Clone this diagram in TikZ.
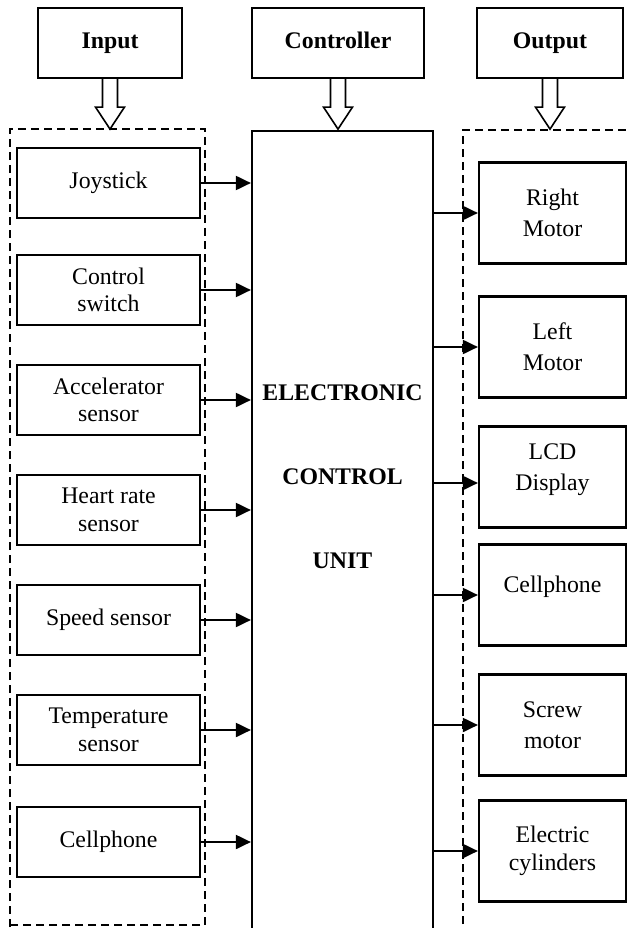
\documentclass[tikz,border=0pt]{standalone}
\usepackage{fontspec}
\setmainfont{Liberation Serif}
\usetikzlibrary{arrows.meta,positioning}
\tikzset{
  txt/.style={font=\fontsize{23.8}{27.4}\selectfont, align=center},
  header/.style={draw, line width=2.2pt, minimum width=#1, minimum height=70, inner sep=0pt, text height=16.5, text depth=4.5, font=\fontsize{23.8}{27.4}\selectfont\bfseries},
  inbox/.style={draw, line width=2.2pt, minimum width=183, minimum height=70, inner sep=0pt, txt},
  outbox/.style={draw, line width=2.2pt, minimum width=147, minimum height=101, inner sep=0pt, align=center, font=\fontsize{23.8}{31}\selectfont},
  grp/.style={draw, dash pattern=on 8pt off 5pt, line width=1.5pt},
  arr/.style={line width=2pt, -{Triangle[length=15pt,width=14pt]}},
  hollow/.style={line width=1.6pt, line join=miter}
}
\newcommand\hollowarrow[1]{%
  \draw[hollow] (#1.south) ++(-7.5,0) -- ++(0,28) -- ++(-7,0) -- ++(14.5,22) -- ++(14.5,-22) -- ++(-7,0) -- ++(0,-28);}
\begin{document}
\begin{tikzpicture}[x=1pt,y=-1pt]
\useasboundingbox (0,0) rectangle (631,928);
\clip (0,0) rectangle (631,928);
\fill[white] (0,0) rectangle (631,928);

% headers
\node[header=144] (hin) at (110,43) {Input};
\node[header=172] (hctl) at (338,43) {Controller};
\node[header=146] (hout) at (550,43) {Output};
\hollowarrow{hin}
\hollowarrow{hctl}
\hollowarrow{hout}

% group frames
\draw[grp] (10,940) -- (10,129) -- (205,129) -- (205,925) -- (10,925) -- cycle;
\draw[grp] (463,950) -- (463,130) -- (645,130);

% ECU
\node[draw, line width=2.2pt, minimum width=181, minimum height=830, anchor=north, inner sep=0pt] (ecu) at (342.5,130) {};
\node[txt, font=\fontsize{23.8}{84}\selectfont\bfseries] (ecutext) at (342.5,477) {ELECTRONIC\\CONTROL\\UNIT};

% inputs
\node[inbox] (i1) at (108.5,183) {Joystick};
\node[inbox] (i2) at (108.5,290) {Control\\switch};
\node[inbox] (i3) at (108.5,400) {Accelerator\\sensor};
\node[inbox] (i4) at (108.5,510) {Heart rate\\sensor};
\node[inbox] (i5) at (108.5,620) {Speed sensor};
\node[inbox] (i6) at (108.5,730) {Temperature\\sensor};
\node[inbox] (i7) at (108.5,842) {Cellphone};
\foreach \n in {i1,i2,i3,i4,i5,i6,i7}
  \draw[arr] (\n.east) -- (\n.east -| ecu.west);

% outputs
\node[outbox] (o1) at (552.5,213) {Right\\Motor};
\node[outbox] (o2) at (552.5,347) {Left\\Motor};
\node[outbox] (o3) at (552.5,477) {};
\node[txt, font=\fontsize{23.8}{31}\selectfont] (o3t) at (552.5,470) {LCD\\Display};
\node[outbox] (o4) at (552.5,595) {};
\node[txt] (o4t) at (552.5,587) {Cellphone};
\node[outbox] (o5) at (552.5,725) {Screw\\motor};
\node[outbox, font=\fontsize{23.8}{27.4}\selectfont] (o6) at (552.5,851) {Electric\\cylinders};
\foreach \n in {o1,o2,o4,o5,o6}
  \draw[arr] (ecu.east |- \n.west) -- (\n.west);
\coordinate (o3in) at ([yshift=-6pt]o3.west);
\draw[arr] (ecu.east |- o3in) -- (o3in);
\end{tikzpicture}
\end{document}
